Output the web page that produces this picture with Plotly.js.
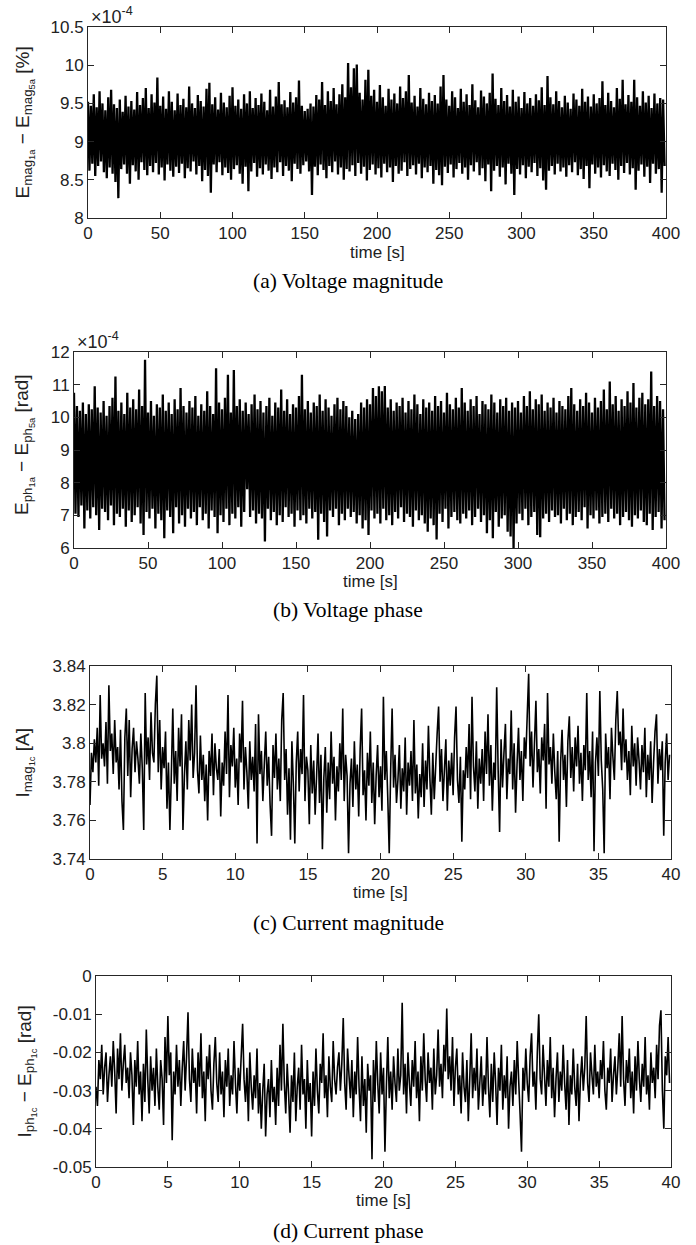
<!DOCTYPE html>
<html>
<head>
<meta charset="utf-8">
<script src="https://cdn.plot.ly/plotly-3.0.1.min.js"></script>
<style>
html,body{margin:0;padding:0;background:#fff;}
#chart{width:696px;height:1245px;}
</style>
</head>
<body>
<div id="chart"></div>
<script>
// ---------------- DATA ----------------
// (a) voltage magnitude difference, units of 1e-4 %, sampled every 1 s from t = 0
const voltMagDiff_e4 = [
9.52,8.62,9.47,8.71,9.62,8.55,9.45,8.68,9.66,8.74,9.50,8.60,9.41,8.52,9.58,8.66,9.68,8.58,9.49,8.47,
9.44,8.26,9.55,8.64,9.39,8.70,9.60,8.58,9.46,8.45,9.53,8.69,9.42,8.61,9.65,8.50,9.48,8.73,9.57,8.63,
9.70,8.56,9.44,8.68,9.62,8.60,9.51,8.72,9.84,8.57,9.47,8.66,9.59,8.49,9.43,8.70,9.66,8.62,9.52,8.54,
9.41,8.67,9.63,8.59,9.48,8.71,9.56,8.52,9.45,8.65,9.72,8.61,9.50,8.74,9.44,8.57,9.61,8.68,9.53,8.48,
9.46,8.63,9.69,8.55,9.77,8.33,9.49,8.70,9.58,8.60,9.42,8.73,9.64,8.56,9.51,8.66,9.45,8.59,9.60,8.50,
9.71,8.64,9.47,8.69,9.55,8.58,9.43,8.45,9.62,8.67,9.50,8.35,9.66,8.61,9.44,8.72,9.57,8.54,9.48,8.65,
9.63,8.57,9.52,8.70,9.41,8.62,9.68,8.51,9.46,8.66,9.59,8.60,9.78,8.73,9.49,8.55,9.54,8.68,9.45,8.62,
9.65,8.48,9.51,8.71,9.58,8.64,9.80,8.58,9.47,8.69,9.40,8.74,9.43,8.61,9.50,8.30,9.46,8.67,9.61,8.56,
9.55,8.70,9.78,8.63,9.48,8.52,9.66,8.68,9.53,8.60,9.70,8.74,9.49,8.57,9.62,8.66,9.75,8.50,9.58,8.64,
10.03,8.61,9.71,8.69,9.96,8.55,10.01,8.72,9.64,8.58,9.55,8.67,9.81,8.49,9.94,8.63,9.60,8.70,9.68,8.57,
9.52,8.65,9.74,8.53,9.58,8.71,9.47,8.60,9.69,8.66,9.55,8.47,9.63,8.68,9.50,8.58,9.72,8.62,9.57,8.73,
9.66,8.55,9.87,8.64,9.51,8.69,9.60,8.57,9.46,8.71,9.70,8.52,9.56,8.66,9.49,8.60,9.64,8.68,9.53,8.45,
9.61,8.63,9.50,8.56,9.72,8.43,9.87,8.67,9.55,8.59,9.47,8.70,9.66,8.53,9.58,8.64,9.44,8.72,9.69,8.58,
9.52,8.66,9.62,8.50,9.48,8.69,9.75,8.61,9.54,8.73,9.45,8.56,9.67,8.65,9.59,8.48,9.50,8.70,9.64,8.35,
9.89,8.62,9.56,8.68,9.48,8.54,9.70,8.66,9.53,8.44,9.61,8.71,9.46,8.58,9.68,8.30,9.52,8.64,9.59,8.57,
9.44,8.69,9.65,8.52,9.50,8.67,9.57,8.60,9.47,8.72,9.62,8.55,9.54,8.65,9.71,8.49,9.48,8.37,9.86,8.62,
9.58,8.68,9.49,8.57,9.66,8.71,9.53,8.61,9.45,8.66,9.60,8.54,9.51,8.69,9.43,8.60,9.63,8.73,9.55,8.56,
9.47,8.64,9.69,8.51,9.52,8.68,9.59,8.39,9.46,8.70,9.62,8.58,9.50,8.66,9.57,8.53,9.79,8.69,9.48,8.61,
9.64,8.55,9.53,8.71,9.45,8.63,9.70,8.50,9.56,8.68,9.81,8.59,9.49,8.72,9.61,8.57,9.52,8.65,9.81,8.37,
9.58,8.62,9.47,8.70,9.66,8.54,9.51,8.67,9.60,8.46,9.44,8.71,9.63,8.58,9.50,8.64,9.57,8.33,9.55,8.68
];
// (b) voltage phase difference, units of 1e-4 rad, sampled every 1 s from t = 0
const voltPhDiff_e4 = [
10.75,7.05,10.35,6.95,10.20,7.30,10.45,6.60,10.10,7.15,10.40,6.90,10.25,7.25,10.95,7.00,10.30,6.55,10.15,7.20,
10.50,7.10,10.05,6.85,10.35,7.30,10.60,6.70,11.25,7.05,10.20,6.95,10.45,7.20,10.10,6.65,10.75,7.15,10.30,6.80,
10.55,7.00,10.25,7.25,10.85,6.75,10.35,6.40,11.76,7.10,10.15,6.90,10.50,7.20,10.05,6.60,10.40,7.05,10.30,6.85,
10.70,6.30,10.20,7.15,10.45,6.95,10.10,6.45,10.55,7.25,10.25,6.75,10.90,7.00,10.35,6.65,10.15,7.20,10.50,6.90,
10.30,7.10,10.65,6.70,10.05,7.25,10.40,6.85,10.20,7.05,10.80,6.60,10.35,7.15,10.10,6.95,11.50,6.45,10.45,7.00,
10.25,6.80,10.60,7.20,11.30,6.70,10.15,7.05,11.45,6.90,10.35,7.25,10.55,6.65,10.20,7.10,10.45,7.80,10.10,6.95,
10.40,7.15,10.70,6.75,10.25,7.05,10.50,6.90,10.15,6.20,10.35,7.20,10.60,6.85,10.05,7.10,10.45,6.70,10.30,7.00,
10.85,6.80,10.20,7.25,10.55,6.95,10.10,7.05,10.40,6.65,10.30,7.15,10.65,6.85,11.30,7.00,10.25,6.75,10.50,7.20,
10.15,6.90,10.45,7.10,10.35,6.25,10.70,7.05,10.20,6.80,10.55,6.35,10.30,7.15,10.05,6.95,10.40,7.20,10.60,6.70,
10.25,7.05,10.50,6.85,10.35,7.20,10.00,6.95,10.20,7.10,9.95,6.75,10.10,7.00,10.45,6.60,10.30,6.85,10.55,6.40,
10.40,7.15,10.90,6.90,10.65,7.05,10.95,6.75,10.80,7.20,10.96,6.85,10.30,7.00,10.55,6.70,10.20,7.10,10.45,6.90,
10.35,7.25,10.60,6.80,10.15,7.05,10.50,6.95,10.25,6.65,10.70,7.15,10.40,6.85,10.10,7.00,10.55,6.75,10.30,6.50,
10.45,6.90,10.20,6.70,10.65,6.26,10.35,7.05,10.50,6.80,10.15,7.20,10.75,6.60,10.40,6.95,10.25,7.10,10.60,6.85,
10.30,6.75,10.90,7.05,10.45,6.90,10.20,7.15,10.55,6.70,10.35,6.95,10.65,7.20,10.10,6.80,10.50,7.00,10.40,6.45,
10.25,6.85,10.70,6.30,10.45,7.10,10.15,6.65,10.55,6.90,10.35,7.00,10.60,6.50,10.20,6.35,10.45,6.00,10.30,6.75,
10.50,7.05,10.15,6.85,10.65,7.20,10.35,6.70,10.80,6.95,10.25,7.10,10.55,6.40,10.40,6.33,10.70,6.90,10.20,7.05,
10.45,6.80,10.30,7.15,10.60,6.95,10.15,7.00,10.50,6.75,10.35,7.20,10.25,6.85,10.65,7.05,10.90,6.70,10.40,6.95,
10.20,7.10,10.55,6.85,10.35,7.25,10.75,6.60,10.45,7.00,10.15,6.90,10.60,7.15,10.30,6.75,10.50,6.95,10.85,7.05,
10.25,6.80,11.10,7.20,10.40,6.90,10.65,7.05,10.20,6.70,10.55,6.95,10.35,7.10,10.80,6.85,10.45,6.65,11.05,7.00,
10.30,6.90,10.60,7.15,10.75,6.80,10.40,6.70,10.55,7.05,11.40,6.55,10.35,6.95,10.65,7.10,10.50,6.60,10.25,6.85
];
// (c) current magnitude [A], sampled every 0.1 s from t = 0
const currMag = [
3.768,3.795,3.785,3.802,3.790,3.808,3.778,3.825,3.792,3.800,
3.788,3.811,3.779,3.830,3.796,3.805,3.784,3.812,3.790,3.798,
3.776,3.807,3.770,3.755,3.803,3.818,3.783,3.812,3.772,3.797,
3.808,3.785,3.801,3.792,3.779,3.805,3.787,3.755,3.826,3.789,
3.803,3.781,3.816,3.795,3.790,3.820,3.835,3.785,3.812,3.776,
3.798,3.787,3.806,3.766,3.790,3.755,3.784,3.818,3.779,3.796,
3.770,3.808,3.788,3.815,3.755,3.783,3.801,3.776,3.812,3.791,
3.820,3.782,3.795,3.830,3.786,3.774,3.804,3.781,3.794,3.770,
3.789,3.760,3.796,3.783,3.805,3.773,3.800,3.787,3.781,3.797,
3.762,3.790,3.778,3.806,3.784,3.825,3.772,3.799,3.788,3.808,
3.777,3.792,3.768,3.805,3.790,3.822,3.776,3.798,3.785,3.766,
3.801,3.781,3.793,3.775,3.810,3.748,3.815,3.784,3.796,3.770,
3.789,3.806,3.778,3.793,3.768,3.752,3.799,3.782,3.805,3.776,
3.792,3.770,3.812,3.826,3.781,3.797,3.763,3.787,3.750,3.801,
3.779,3.748,3.790,3.806,3.775,3.797,3.784,3.825,3.770,3.793,
3.786,3.758,3.799,3.774,3.791,3.763,3.783,3.805,3.769,3.794,
3.745,3.782,3.798,3.764,3.790,3.771,3.806,3.779,3.793,3.760,
3.788,3.775,3.800,3.781,3.818,3.770,3.794,3.783,3.743,3.779,
3.792,3.767,3.801,3.776,3.789,3.762,3.797,3.818,3.773,3.786,
3.760,3.795,3.778,3.806,3.769,3.790,3.758,3.783,3.799,3.772,
3.788,3.765,3.824,3.781,3.796,3.772,3.743,3.786,3.818,3.777,
3.794,3.769,3.781,3.799,3.766,3.787,3.775,3.803,3.763,3.790,
3.778,3.796,3.770,3.812,3.774,3.789,3.761,3.784,3.772,3.800,
3.767,3.791,3.776,3.809,3.782,3.763,3.795,3.771,3.788,3.805,
3.819,3.780,3.797,3.770,3.786,3.802,3.765,3.791,3.778,3.795,
3.773,3.803,3.819,3.781,3.769,3.793,3.749,3.786,3.776,3.798,
3.782,3.810,3.771,3.824,3.788,3.775,3.801,3.766,3.792,3.779,
3.797,3.770,3.806,3.784,3.815,3.778,3.799,3.765,3.790,3.781,
3.829,3.786,3.754,3.802,3.777,3.795,3.810,3.771,3.792,3.784,
3.817,3.776,3.800,3.764,3.789,3.808,3.781,3.796,3.770,3.803,
3.792,3.814,3.836,3.788,3.806,3.777,3.800,3.822,3.785,3.797,
3.774,3.803,3.791,3.810,3.766,3.826,3.789,3.798,3.779,3.805,
3.785,3.771,3.796,3.749,3.790,3.807,3.781,3.794,3.767,3.801,
3.814,3.782,3.798,3.775,3.803,3.788,3.809,3.779,3.795,3.770,
3.799,3.786,3.826,3.781,3.796,3.772,3.806,3.744,3.790,3.803,
3.783,3.827,3.791,3.776,3.743,3.805,3.787,3.798,3.771,3.808,
3.793,3.781,3.812,3.827,3.799,3.806,3.786,3.818,3.790,3.802,
3.781,3.796,3.773,3.809,3.788,3.800,3.778,3.803,3.791,3.776,
3.799,3.785,3.808,3.772,3.794,3.781,3.801,3.769,3.790,3.806,
3.815,3.779,3.797,3.786,3.801,3.752,3.790,3.805,3.781,3.794
];
// (d) current phase minus voltage phase [rad], sampled every 0.1 s from t = 0
const currPhDiff = [
-0.029,-0.034,-0.022,-0.027,-0.018,-0.031,-0.024,-0.020,-0.033,-0.026,
-0.021,-0.029,-0.017,-0.025,-0.036,-0.019,-0.027,-0.015,-0.030,-0.023,
-0.018,-0.028,-0.024,-0.032,-0.020,-0.026,-0.039,-0.022,-0.029,-0.017,
-0.031,-0.025,-0.038,-0.023,-0.033,-0.014,-0.027,-0.036,-0.021,-0.030,
-0.024,-0.034,-0.019,-0.029,-0.035,-0.022,-0.027,-0.039,-0.016,-0.028,
-0.0105,-0.026,-0.020,-0.043,-0.025,-0.031,-0.018,-0.029,-0.022,-0.034,
-0.024,-0.017,-0.030,-0.021,-0.0095,-0.027,-0.033,-0.019,-0.028,-0.024,
-0.036,-0.020,-0.029,-0.015,-0.032,-0.025,-0.038,-0.021,-0.027,-0.018,
-0.030,-0.035,-0.023,-0.016,-0.028,-0.033,-0.020,-0.031,-0.025,-0.037,
-0.022,-0.029,-0.019,-0.034,-0.026,-0.031,-0.017,-0.028,-0.036,-0.024,
-0.030,-0.021,-0.0125,-0.027,-0.033,-0.024,-0.038,-0.020,-0.029,-0.035,
-0.026,-0.032,-0.019,-0.036,-0.028,-0.040,-0.030,-0.023,-0.042,-0.031,
-0.027,-0.037,-0.022,-0.033,-0.029,-0.039,-0.024,-0.034,-0.018,-0.030,
-0.0125,-0.028,-0.036,-0.023,-0.031,-0.041,-0.026,-0.033,-0.020,-0.038,
-0.029,-0.024,-0.035,-0.018,-0.031,-0.027,-0.040,-0.022,-0.033,-0.028,
-0.042,-0.025,-0.034,-0.019,-0.030,-0.036,-0.023,-0.028,-0.015,-0.032,
-0.026,-0.037,-0.021,-0.029,-0.033,-0.017,-0.027,-0.031,-0.024,-0.020,
-0.030,-0.023,-0.011,-0.028,-0.035,-0.019,-0.026,-0.032,-0.022,-0.037,
-0.025,-0.031,-0.016,-0.029,-0.038,-0.021,-0.034,-0.027,-0.041,-0.023,
-0.030,-0.026,-0.048,-0.022,-0.033,-0.017,-0.028,-0.036,-0.020,-0.031,
-0.024,-0.046,-0.029,-0.016,-0.032,-0.025,-0.035,-0.021,-0.028,-0.033,
-0.019,-0.030,-0.026,-0.007,-0.031,-0.023,-0.036,-0.020,-0.028,-0.034,
-0.022,-0.029,-0.017,-0.032,-0.025,-0.038,-0.021,-0.030,-0.015,-0.027,
-0.033,-0.020,-0.028,-0.024,-0.035,-0.019,-0.031,-0.026,-0.014,-0.029,
-0.023,-0.032,-0.018,-0.025,-0.0085,-0.027,-0.021,-0.030,-0.016,-0.034,
-0.024,-0.019,-0.031,-0.026,-0.036,-0.020,-0.029,-0.033,-0.022,-0.038,
-0.027,-0.015,-0.032,-0.024,-0.030,-0.019,-0.035,-0.028,-0.021,-0.034,
-0.026,-0.031,-0.016,-0.029,-0.037,-0.023,-0.033,-0.020,-0.028,-0.039,
-0.024,-0.030,-0.018,-0.035,-0.026,-0.032,-0.021,-0.040,-0.029,-0.025,
-0.034,-0.022,-0.031,-0.017,-0.027,-0.036,-0.046,-0.024,-0.030,-0.019,
-0.028,-0.033,-0.021,-0.015,-0.029,-0.025,-0.035,-0.020,-0.010,-0.027,
-0.031,-0.018,-0.026,-0.034,-0.022,-0.029,-0.016,-0.032,-0.024,-0.037,
-0.027,-0.020,-0.033,-0.025,-0.030,-0.018,-0.028,-0.035,-0.022,-0.039,
-0.026,-0.031,-0.019,-0.029,-0.034,-0.023,-0.038,-0.027,-0.021,-0.030,
-0.024,-0.0105,-0.028,-0.033,-0.020,-0.026,-0.031,-0.018,-0.029,-0.025,
-0.032,-0.022,-0.027,-0.017,-0.030,-0.035,-0.024,-0.028,-0.019,-0.033,
-0.026,-0.021,-0.031,-0.024,-0.015,-0.029,-0.0105,-0.027,-0.034,-0.022,
-0.028,-0.019,-0.032,-0.025,-0.036,-0.021,-0.030,-0.017,-0.027,-0.033,
-0.023,-0.029,-0.016,-0.031,-0.026,-0.035,-0.020,-0.028,-0.024,-0.032,
-0.018,-0.027,-0.013,-0.009,-0.030,-0.040,-0.021,-0.026,-0.016,-0.028
];
// tick labels
const ticksTimeLong = [0,50,100,150,200,250,300,350,400];
const ticksTimeShort = [0,5,10,15,20,25,30,35,40];
const ticksA = [8,8.5,9,9.5,10,10.5];
const ticksALabels = ['8','8.5','9','9.5','10','10.5'];
const ticksB = [6,7,8,9,10,11,12];
const ticksBLabels = ['6','7','8','9','10','11','12'];
const ticksC = [3.74,3.76,3.78,3.80,3.82,3.84];
const ticksCLabels = ['3.74','3.76','3.78','3.8','3.82','3.84'];
const ticksD = [-0.05,-0.04,-0.03,-0.02,-0.01,0];
const ticksDLabels = ['-0.05','-0.04','-0.03','-0.02','-0.01','0'];
const captions = ['(a) Voltage magnitude','(b) Voltage phase','(c) Current magnitude','(d) Current phase'];

// ---------------- LAYOUT HELPERS ----------------
const W = 696, H = 1245;
const px = x => x / W;
const py = y => 1 - y / H;
const AX = '#262626';
const TICKFONT = {family: 'Liberation Sans, Arial, sans-serif', size: 17, color: '#222'};
const SERIF = {family: 'Liberation Serif, Times New Roman, serif', size: 21.5, color: '#000'};

function xAx(l, r, anchor, range, vals) {
  return {domain: [px(l), px(r)], anchor: anchor, range: range, tickmode: 'array',
    tickvals: vals, ticktext: vals.map(String), ticks: 'inside', ticklen: 6, tickcolor: AX,
    showline: true, linecolor: AX, linewidth: 1, mirror: 'ticks', showgrid: false, zeroline: false,
    tickfont: TICKFONT, fixedrange: true};
}
function yAx(t, b, anchor, range, vals, labels) {
  return {domain: [py(b), py(t)], anchor: anchor, range: range, tickmode: 'array',
    tickvals: vals, ticktext: labels, ticks: 'inside', ticklen: 6, tickcolor: AX,
    showline: true, linecolor: AX, linewidth: 1, mirror: 'ticks', showgrid: false, zeroline: false,
    tickfont: TICKFONT, fixedrange: true};
}

const line = w => ({color: '#000', width: w, simplify: false});
const traces = [
  {type: 'scatter', mode: 'lines', y: voltMagDiff_e4, x0: 0, dx: 1, xaxis: 'x', yaxis: 'y', line: line(2.3)},
  {type: 'scatter', mode: 'lines', y: voltPhDiff_e4, x0: 0, dx: 1, xaxis: 'x2', yaxis: 'y2', line: line(2.3)},
  {type: 'scatter', mode: 'lines', y: currMag, x0: 0, dx: 0.1, xaxis: 'x3', yaxis: 'y3', line: line(1.6)},
  {type: 'scatter', mode: 'lines', y: currPhDiff, x0: 0, dx: 0.1, xaxis: 'x4', yaxis: 'y4', line: line(1.6)}
];

const ann = [];
function addText(text, x, y, font, opts) {
  ann.push(Object.assign({text: text, x: px(x), y: py(y), xref: 'paper', yref: 'paper',
    showarrow: false, font: font, xanchor: 'center', yanchor: 'middle'}, opts || {}));
}
const XTFONT = {family: 'Liberation Sans, Arial, sans-serif', size: 17, color: '#222'};
const YTFONT = {family: 'Liberation Sans, Arial, sans-serif', size: 19, color: '#222'};
// x titles
addText('time [s]', 377, 252, XTFONT);
addText('time [s]', 370, 581, XTFONT);
addText('time [s]', 380.5, 892, XTFONT);
addText('time [s]', 383.5, 1200, XTFONT);
// y titles
addText('E<sub>mag<sub>1a</sub></sub> \u2212 E<sub>mag<sub>5a</sub></sub> [%]', 24, 122.5, YTFONT, {textangle: -90});
addText('E<sub>ph<sub>1a</sub></sub> \u2212 E<sub>ph<sub>5a</sub></sub> [rad]', 24, 445, YTFONT, {textangle: -90});
addText('I<sub>mag<sub>1c</sub></sub> [A]', 24, 762.5, YTFONT, {textangle: -90});
addText('I<sub>ph<sub>1c</sub></sub> \u2212 E<sub>ph<sub>1c</sub></sub> [rad]', 26, 1071.5, YTFONT, {textangle: -90});
// exponent labels
const EXPFONT = {family: 'Liberation Sans, Arial, sans-serif', size: 18, color: '#222'};
addText('\u00d710<sup>-4</sup>', 89, 15, EXPFONT, {xanchor: 'left'});
addText('\u00d710<sup>-4</sup>', 75, 340, EXPFONT, {xanchor: 'left'});
// captions
addText(captions[0], 348, 281, SERIF);
addText(captions[1], 348, 610, SERIF);
addText(captions[2], 348, 923, SERIF);
addText(captions[3], 348, 1231, SERIF);

const layout = {
  width: W, height: H, margin: {l: 0, r: 0, t: 0, b: 0},
  paper_bgcolor: '#fff', plot_bgcolor: '#fff', showlegend: false,
  xaxis: xAx(88, 666, 'y', [0, 400], ticksTimeLong),
  yaxis: yAx(27, 218, 'x', [8, 10.5], ticksA, ticksALabels),
  xaxis2: xAx(74, 666, 'y2', [0, 400], ticksTimeLong),
  yaxis2: yAx(352, 548, 'x2', [6, 12], ticksB, ticksBLabels),
  xaxis3: xAx(90, 671, 'y3', [0, 40], ticksTimeShort),
  yaxis3: yAx(666, 859, 'x3', [3.74, 3.84], ticksC, ticksCLabels),
  xaxis4: xAx(96, 671, 'y4', [0, 40], ticksTimeShort),
  yaxis4: yAx(976, 1167, 'x4', [-0.05, 0], ticksD, ticksDLabels),
  annotations: ann
};

Plotly.newPlot('chart', traces, layout, {staticPlot: true, displayModeBar: false});
</script>
</body>
</html>
